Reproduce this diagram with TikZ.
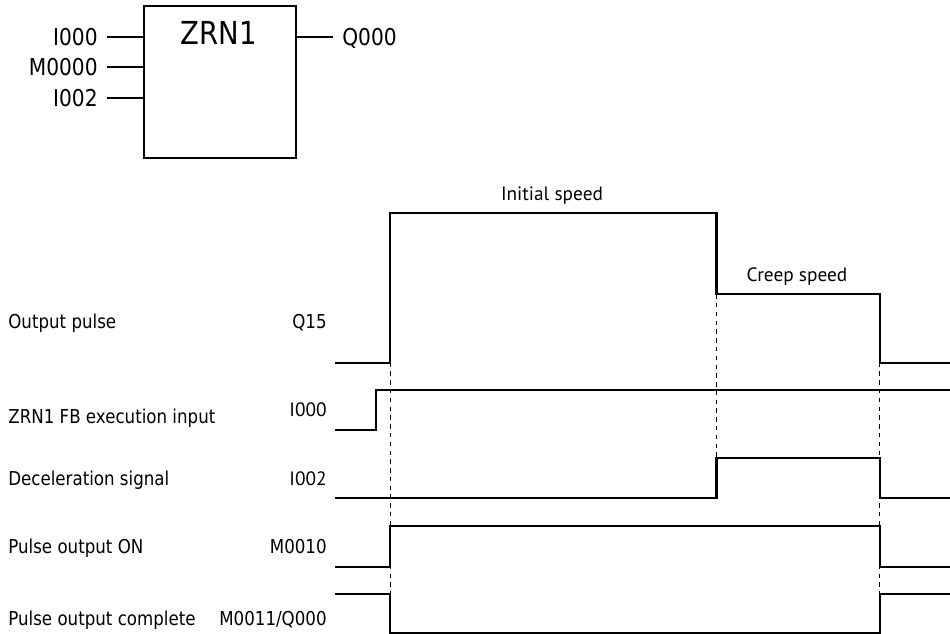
\documentclass[tikz,border=0pt]{standalone}
\usepackage{fontspec}
\setmainfont{DejaVu Sans}[FakeStretch=0.87]
\newfontfamily\speedfont{PT Sans}

\begin{document}
\begin{tikzpicture}[x=0.02cm,y=-0.02cm,
  sig/.style={line width=1.15pt},
  guide/.style={line width=0.5pt,dash pattern=on 2.5pt off 2.5pt},
  pin/.style={inner xsep=0.18cm,inner ysep=0pt,text depth=0pt,font=\fontsize{13.2}{15}\selectfont},
  lbl/.style={anchor=base west,inner sep=0pt,font=\fontsize{10.9}{12}\selectfont},
  tag/.style={anchor=base east,inner sep=0pt,font=\fontsize{10.9}{12}\selectfont},
  spd/.style={anchor=base,inner sep=0pt,font=\speedfont\fontsize{11}{12}\selectfont}]
\useasboundingbox (0,0) rectangle (950,634);
% function block
\node[draw,line width=1.3pt,minimum width=3.04cm,minimum height=3.04cm] (zrn) at (220,82) {};
\node[anchor=base,inner sep=0pt,font=\fontsize{18}{20}\selectfont] (zrnname) at (219,45) {ZRN1};
\node[pin,anchor=east] (in1) at (107,37) {I000};
\node[pin,anchor=east] (in2) at (107,67) {M0000};
\node[pin,anchor=east] (in3) at (107,98) {I002};
\node[pin,anchor=west] (out) at (333,37) {Q000};
\draw[line width=1.2pt] (in1) -- (in1 -| zrn.west);
\draw[line width=1.2pt] (in2) -- (in2 -| zrn.west);
\draw[line width=1.2pt] (in3) -- (in3 -| zrn.west);
\draw[line width=1.2pt] (out) -- (out -| zrn.east);
% timing chart
\node[lbl] (lpulse) at (8,329) {Output pulse};
\node[tag] (tpulse) at (327,329) {Q15};
\node[lbl] (lexec) at (8,424) {ZRN1 FB execution input};
\node[tag,font=\speedfont\fontsize{11}{12}\selectfont] (texec) at (327,416.7) {I000};
\node[lbl] (ldecel) at (8,486) {Deceleration signal};
\node[tag,font=\speedfont\fontsize{11}{12}\selectfont] (tdecel) at (327,486) {I002};
\node[lbl] (lon) at (8,554) {Pulse output ON};
\node[tag] (ton) at (327,554) {M0010};
\node[lbl] (ldone) at (8,625) {Pulse output complete};
\node[tag] (tdone) at (327,625) {M0011/Q000};
\node[spd] (initial) at (552,200.7) {Initial speed};
\node[spd] (creep) at (797,281.7) {Creep speed};
\foreach \x/\a/\b in {390/362.7/593.7,716.5/294.3/457.7,879.7/362.7/593.7}
  \draw[guide] (\x,\a) -- (\x,\b);
\draw[sig] (335,362.7) -- (390,362.7) -- (390,212.7) -- (716.5,212.7) -- (716.5,294.3)
  -- (879.7,294.3) -- (879.7,362.7) -- (950,362.7);
\draw[sig] (335,430) -- (375.8,430) -- (375.8,390) -- (950,390);
\draw[sig] (335,498.3) -- (716.5,498.3) -- (716.5,457.7) -- (879.7,457.7) -- (879.7,498.3) -- (950,498.3);
\draw[sig] (335,566.7) -- (390,566.7) -- (390,526) -- (879.7,526) -- (879.7,566.7) -- (950,566.7);
\draw[sig] (335,593.7) -- (390,593.7) -- (390,633.3) -- (879.7,633.3) -- (879.7,593.7) -- (950,593.7);
\end{tikzpicture}
\end{document}
